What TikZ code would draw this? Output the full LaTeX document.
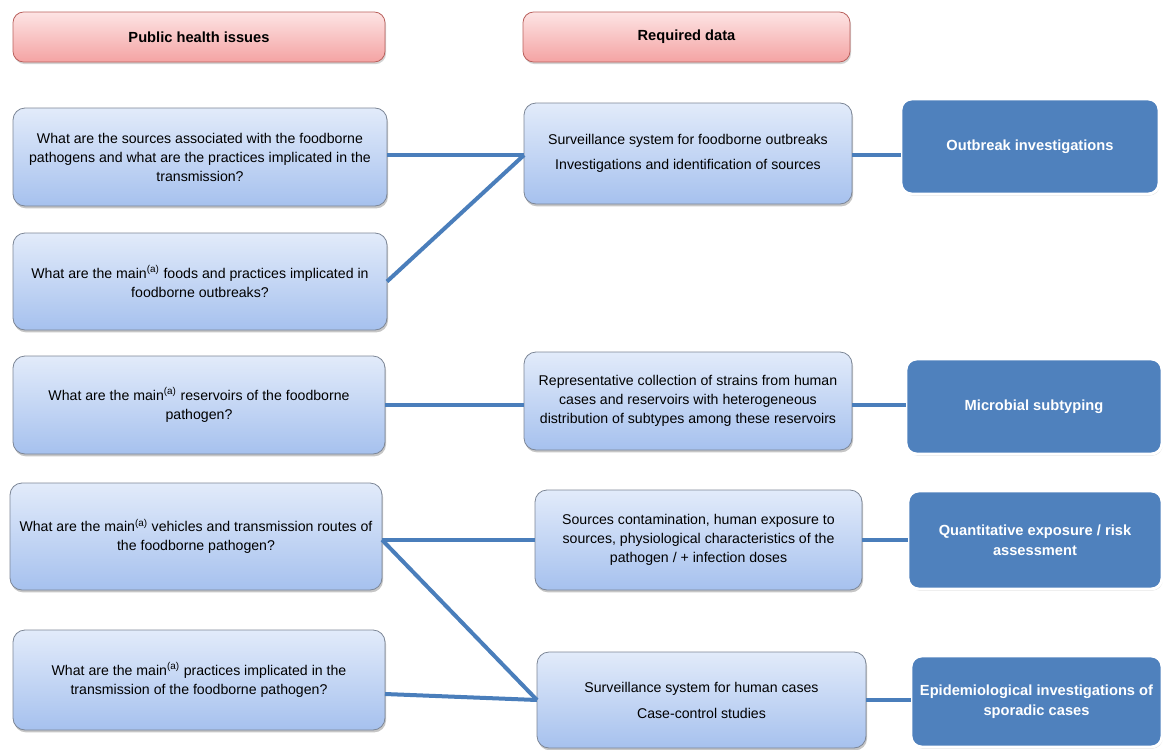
\documentclass[tikz,border=0pt]{standalone}
\usepackage{fontspec}
\setmainfont{Liberation Sans}
\usetikzlibrary{shadows}
\definecolor{conn}{HTML}{4A7EBB}
\definecolor{darkbox}{HTML}{4F81BD}
\definecolor{lbtop}{HTML}{E2EBFA}
\definecolor{lbbot}{HTML}{A6C1EE}
\definecolor{lbdraw}{HTML}{7C8696}
\definecolor{pktop}{HTML}{FDE4E4}
\definecolor{pkbot}{HTML}{F4A3A3}
\definecolor{pkdraw}{HTML}{B9605C}
\begin{document}
\begin{tikzpicture}[x=0.75pt,y=-0.75pt,
  sz/.style 2 args={minimum width=#1*0.75pt, minimum height=#2*0.75pt, inner sep=2pt, outer sep=0pt},
  hdr/.style={rounded corners=8pt, draw=pkdraw, line width=0.6pt, top color=pktop, bottom color=pkbot,
    drop shadow={shadow xshift=0.8pt, shadow yshift=-1.6pt, opacity=0.35},
    font=\fontsize{11}{13}\selectfont\bfseries, align=center},
  qbox/.style={rounded corners=9pt, draw=lbdraw, line width=0.6pt, top color=lbtop, bottom color=lbbot,
    drop shadow={shadow xshift=0.8pt, shadow yshift=-1.8pt, opacity=0.45},
    font=\fontsize{10.6}{14.25}\selectfont, align=center},
  dbox/.style={rounded corners=8pt, draw=white, line width=2.2pt, fill=darkbox, text=white,
    drop shadow={shadow xshift=0.6pt, shadow yshift=-1.2pt, opacity=0.3},
    font=\fontsize{11}{15}\selectfont\bfseries, align=center},
  link/.style={draw=conn, line width=3pt}]
\useasboundingbox (0,0) rectangle (1165,750);

% headers
\node[hdr, sz={372}{50}] (h1) at (199,37) {Public health issues};
\node[hdr, sz={327}{50}] (h2) at (686.5,37) {Required data};

% left column
\node[qbox, sz={374}{98}] (l1) at (200,157) {What are the sources associated with the foodborne\\pathogens and what are the practices implicated in the\\transmission?};
\node[qbox, sz={374}{97}] (l2) at (200,281.5) {What are the main\textsuperscript{(a)} foods and practices implicated in\\foodborne outbreaks?};
\node[qbox, sz={372}{98}] (l3) at (199,405) {What are the main\textsuperscript{(a)} reservoirs of the foodborne\\pathogen?};
\node[qbox, sz={372}{107}] (l4) at (196,536.5) {What are the main\textsuperscript{(a)} vehicles and transmission routes of\\the foodborne pathogen?};
\node[qbox, sz={372}{100}] (l5) at (199,680) {What are the main\textsuperscript{(a)} practices implicated in the\\transmission of the foodborne pathogen?};

% middle column
\node[qbox, sz={328}{101}, font=\fontsize{10.6}{18.75}\selectfont] (m1) at (688,153.5) {Surveillance system for foodborne outbreaks\\Investigations and identification of sources};
\node[qbox, sz={328}{98}] (m2) at (688,401) {Representative collection of strains from human\\cases and reservoirs with heterogeneous\\distribution of subtypes among these reservoirs};
\node[qbox, sz={327}{100}] (m3) at (698.5,540) {Sources contamination, human exposure to\\sources, physiological characteristics of the\\pathogen / + infection doses};
\node[qbox, sz={329}{96}, font=\fontsize{10.6}{19.5}\selectfont] (m4) at (701.5,700) {Surveillance system for human cases\\Case-control studies};

% right column
\node[dbox, sz={258}{95}] (r1) at (1030,146.5) {Outbreak investigations};
\node[dbox, sz={256}{95}] (r2) at (1034,406.5) {Microbial subtyping};
\node[dbox, sz={254}{98}] (r3) at (1035,540) {Quantitative exposure / risk\\assessment};
\node[dbox, sz={251}{91}] (r4) at (1036.5,701.5) {Epidemiological investigations of\\sporadic cases};

% junction points on the box edges
\coordinate (j1) at ([yshift=-1.2pt]m1.west);
\coordinate (j4) at ([yshift=-2.5pt]l4.east);
\coordinate (j5) at ([yshift=-10.5pt]l5.east);

% connectors
\draw[link] (l1.east |- j1) -- (j1);
\draw[link] (l2.east) -- (j1);
\draw[link] (j1 -| m1.east) -- (j1 -| r1.west);
\draw[link] (l3.east) -- (l3.east -| m2.west);
\draw[link] (l3.east -| m2.east) -- (l3.east -| r2.west);
\draw[link] (j4) -- (j4 -| m3.west);
\draw[link] (j4) -- (m4.west);
\draw[link] (j5) -- (m4.west);
\draw[link] (j4 -| m3.east) -- (j4 -| r3.west);
\draw[link] (m4.east) -- (m4.east -| r4.west);
\end{tikzpicture}
\end{document}
